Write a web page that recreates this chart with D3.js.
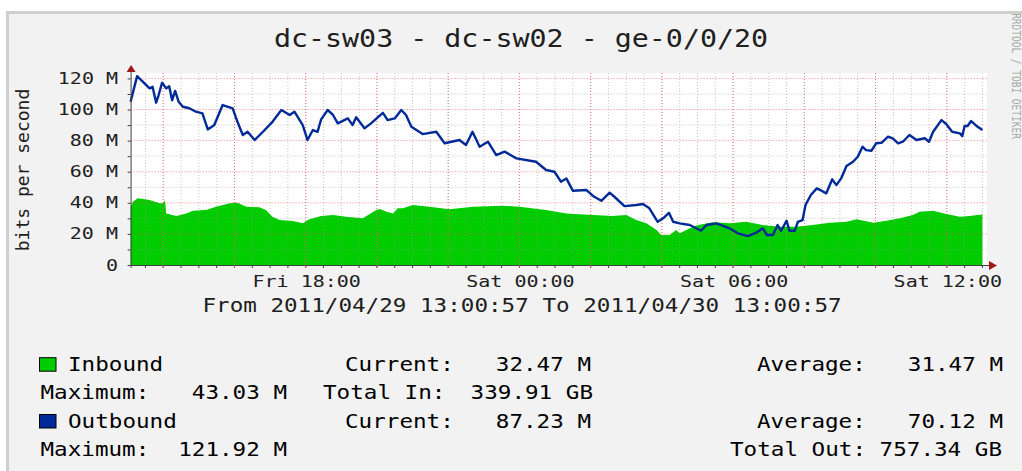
<!DOCTYPE html>
<html><head><meta charset="utf-8">
<script src="https://cdn.jsdelivr.net/npm/d3@7/dist/d3.min.js"></script>
<style>
html,body{margin:0;padding:0;background:#fff;}
svg{display:block;}
text{font-family:"DejaVu Sans Mono",monospace;}
</style></head>
<body>
<svg id="c" width="1022" height="471"></svg>
<script>
// ---------- data ----------
const title = "dc-sw03 - dc-sw02 - ge-0/0/20";
const yAxisTitle = "bits per second";
const rangeText = "From 2011/04/29 13:00:57 To 2011/04/30 13:00:57";
const watermark = "RRDTOOL / TOBI OETIKER";
const yTickValues = [0, 20, 40, 60, 80, 100, 120];           // M bits/s
const yTickLabels = ["0", "20 M", "40 M", "60 M", "80 M", "100 M", "120 M"];
const xLabelTimes = ["29 18:00", "30 00:00", "30 06:00", "30 12:00"];
const xLabelTexts = ["Fri 18:00", "Sat 00:00", "Sat 06:00", "Sat 12:00"];
const timeStart = "29 13:05", timeEnd = "30 13:01";

const inTimes = ["29 13:05","29 13:09","29 13:17","29 13:37","29 13:54","29 13:59","29 14:03","29 14:05","29 14:22","29 14:39","29 14:50","29 15:12","29 15:29","29 15:52","29 16:05","29 16:20","29 16:42","29 16:53","29 17:04","29 17:16","29 17:38","29 17:55","29 18:06","29 18:26","29 18:46","29 19:08","29 19:36","29 19:59","29 20:05","29 20:16","29 20:27","29 20:35","29 20:44","29 21:00","29 21:28","29 22:02","29 22:42","29 23:32","30 00:00","30 00:45","30 01:19","30 02:04","30 02:37","30 03:00","30 03:17","30 03:34","30 03:51","30 03:59","30 04:13","30 04:24","30 04:30","30 04:47","30 05:01","30 05:26","30 05:54","30 06:22","30 06:50","30 07:18","30 07:46","30 08:14","30 08:43","30 09:11","30 09:28","30 09:56","30 10:18","30 10:41","30 11:03","30 11:14","30 11:37","30 11:59","30 12:22","30 12:38","30 13:00"];
const inValues = [37.5,40.7,43.0,41.8,39.7,39.7,41.5,33.2,31.5,33.2,34.9,35.4,37.5,39.7,40.0,37.5,37.1,35.4,31.1,28.9,28.3,26.8,29.4,31.5,32.2,31.1,30.0,35.4,36.0,34.3,33.2,36.5,36.5,38.6,37.5,35.8,37.5,38.1,37.5,35.4,33.2,32.2,31.5,32.2,28.9,26.8,22.5,19.3,19.3,22.5,20.4,23.6,25.7,27.5,26.8,27.8,25.7,24.6,24.6,25.7,27.2,27.8,29.4,27.2,28.5,30.0,32.2,34.3,34.9,32.8,31.1,31.5,32.5];

const outTimes = ["29 13:05","29 13:16","29 13:37","29 13:42","29 13:48","29 13:52","29 13:58","29 14:05","29 14:10","29 14:15","29 14:20","29 14:26","29 14:33","29 14:44","29 14:55","29 15:06","29 15:15","29 15:26","29 15:40","29 15:57","29 16:05","29 16:14","29 16:22","29 16:34","29 16:48","29 17:04","29 17:19","29 17:33","29 17:41","29 17:55","29 18:03","29 18:12","29 18:20","29 18:26","29 18:37","29 18:46","29 18:54","29 19:11","29 19:19","29 19:25","29 19:39","29 19:50","29 20:10","29 20:18","29 20:30","29 20:41","29 20:49","29 20:58","29 21:17","29 21:40","29 21:54","29 22:19","29 22:30","29 22:41","29 22:53","29 23:07","29 23:21","29 23:35","29 23:55","30 00:28","30 00:45","30 00:59","30 01:10","30 01:19","30 01:30","30 01:53","30 02:04","30 02:18","30 02:32","30 02:40","30 02:57","30 03:17","30 03:28","30 03:39","30 03:53","30 04:02","30 04:12","30 04:19","30 04:30","30 04:47","30 05:06","30 05:15","30 05:32","30 05:54","30 06:08","30 06:25","30 06:39","30 06:50","30 06:57","30 07:07","30 07:15","30 07:21","30 07:30","30 07:35","30 07:44","30 07:49","30 07:57","30 08:02","30 08:11","30 08:21","30 08:29","30 08:37","30 08:47","30 08:54","30 09:02","30 09:11","30 09:22","30 09:30","30 09:38","30 09:44","30 09:53","30 10:01","30 10:10","30 10:21","30 10:29","30 10:38","30 10:46","30 10:57","30 11:09","30 11:23","30 11:30","30 11:37","30 11:51","30 11:59","30 12:09","30 12:22","30 12:26","30 12:30","30 12:35","30 12:41","30 12:52","30 13:00"];
const outValues = [105.0,121.5,113.6,114.6,104.4,109.0,117.2,113.6,115.0,106.0,112.0,105.0,101.8,100.8,98.6,97.5,87.2,90.0,102.9,100.8,92.1,83.6,85.7,80.4,85.7,92.1,99.7,96.5,98.6,90.0,80.4,86.8,85.7,93.7,99.7,96.5,91.1,94.3,90.0,95.0,87.9,91.1,97.9,93.2,94.3,99.7,96.5,88.9,84.2,85.7,78.3,80.4,77.2,85.7,76.1,79.3,70.7,72.9,68.6,66.4,61.1,60.0,53.6,55.7,47.8,48.2,44.4,41.3,46.5,43.9,37.9,38.6,39.2,36.5,27.8,30.0,33.6,27.8,26.8,25.7,22.0,25.7,26.8,23.6,20.4,18.6,20.8,23.6,19.3,19.3,25.7,22.0,28.5,22.0,22.0,27.8,28.9,38.6,45.0,49.3,47.8,46.1,55.1,51.4,55.7,63.7,66.4,69.6,76.1,73.9,73.5,78.3,78.6,82.5,81.5,78.3,79.3,83.6,80.4,81.5,79.3,85.7,93.2,90.7,85.7,84.7,82.9,89.4,89.4,92.6,88.9,86.8];

const seriesNames = ["Inbound", "Outbound"];
const seriesColors = ["#00CC00", "#002A97"];
const currentVals = ["32.47 M", "87.23 M"];
const averageVals = ["31.47 M", "70.12 M"];
const maximumVals = ["43.03 M", "121.92 M"];
const totalLabels = ["Total In:", "Total Out:"];
const totalVals = ["339.91 GB", "757.34 GB"];

// ---------- drawing ----------
const svg = d3.select("#c");
const parse = s => d3.timeParse("%Y-%m-%d %H:%M")("2011-04-" + s);

// canvas
svg.append("rect").attr("x", 6).attr("y", 11).attr("width", 1016).attr("height", 460).attr("fill", "#cfcfcf");
svg.append("rect").attr("x", 9).attr("y", 14).attr("width", 1013).attr("height", 457).attr("fill", "#F2F2F2");

const plot = {left: 130.6, right: 987, top: 73, bottom: 265};
const x = d3.scaleTime().domain([parse(timeStart), parse(timeEnd)]).range([130.6, 983]);
const y = d3.scaleLinear().domain([0, 123.5]).range([plot.bottom, plot.top]);

// helper for horizontally stretched text
function txt(s, px, py, size, sx, anchor, fill) {
  return svg.append("text")
    .attr("transform", `translate(${px},${py}) scale(${sx},1)`)
    .attr("font-size", size).attr("text-anchor", anchor || "start")
    .attr("fill", fill || "#000").text(s);
}

svg.append("rect").attr("x", plot.left).attr("y", plot.top)
  .attr("width", plot.right - plot.left).attr("height", plot.bottom - plot.top).attr("fill", "#fff");

// inbound area
const area = d3.area().x((d, i) => x(parse(inTimes[i]))).y0(y(0)).y1(d => y(d));
svg.append("path").datum(inValues).attr("d", area).attr("fill", "#00CC00");

// grid (drawn over the area like rrdtool)
const g = svg.append("g");
const minorT = d3.timeMinute.every(30).range(parse(timeStart), parse(timeEnd));
const majorT = d3.timeHour.every(2).range(parse(timeStart), parse(timeEnd));
minorT.forEach(t => {
  g.append("line").attr("x1", x(t)).attr("x2", x(t)).attr("y1", plot.top).attr("y2", plot.bottom)
    .attr("stroke", "rgba(150,150,150,0.55)").attr("stroke-dasharray", "1,2");
});
majorT.forEach(t => {
  g.append("line").attr("x1", x(t)).attr("x2", x(t)).attr("y1", plot.top).attr("y2", plot.bottom)
    .attr("stroke", "rgba(240,80,80,0.7)").attr("stroke-dasharray", "1,2");
});
d3.range(10, 124, 10).forEach(v => {
  const major = v % 20 === 0;
  g.append("line").attr("x1", plot.left).attr("x2", plot.right).attr("y1", y(v)).attr("y2", y(v))
    .attr("stroke", major ? "rgba(240,80,80,0.7)" : "rgba(150,150,150,0.55)").attr("stroke-dasharray", "1,2");
});

// outbound line
const line = d3.line().x((d, i) => x(parse(outTimes[i]))).y(d => y(d));
svg.append("path").datum(outValues).attr("d", line).attr("fill", "none")
  .attr("stroke", "#002A97").attr("stroke-width", 2.4).attr("stroke-linejoin", "round");

// axes
const ax = svg.append("g").attr("stroke", "#404040");
ax.append("line").attr("x1", plot.left).attr("x2", 990).attr("y1", plot.bottom + 0.5).attr("y2", plot.bottom + 0.5);
ax.append("line").attr("x1", plot.left + 0.5).attr("x2", plot.left + 0.5).attr("y1", plot.bottom + 3).attr("y2", 70);
minorT.forEach(t => ax.append("line").attr("x1", x(t)).attr("x2", x(t)).attr("y1", plot.bottom).attr("y2", plot.bottom + 3));
majorT.forEach(t => svg.append("line").attr("x1", x(t)).attr("x2", x(t)).attr("y1", plot.bottom).attr("y2", plot.bottom + 3).attr("stroke", "rgba(240,80,80,0.8)"));
d3.range(0, 124, 10).forEach(v => ax.append("line").attr("x1", plot.left - 3).attr("x2", plot.left).attr("y1", y(v) + 0.5).attr("y2", y(v) + 0.5));
// arrows
svg.append("path").attr("d", `M${plot.left - 4},${72} L${plot.left + 5},${72} L${plot.left + 0.5},${65} Z`).attr("fill", "#A01818");
svg.append("path").attr("d", `M${989},${plot.bottom - 4} L${989},${plot.bottom + 5} L${997},${plot.bottom + 0.5} Z`).attr("fill", "#A01818");

// y tick labels
yTickValues.forEach((v, i) => txt(yTickLabels[i], 118, y(v) + 5.5, 16, 1.25, "end", "#202020"));
// x tick labels
xLabelTimes.forEach((t, i) => txt(xLabelTexts[i], x(parse(t)) + 1, 287, 16, 1.25, "middle", "#202020"));

// titles
txt(title, 521, 47, 24, 1.18, "middle", "#202020");
svg.append("text").attr("transform", "translate(29,170) rotate(-90)")
  .attr("font-size", 18).attr("text-anchor", "middle").attr("fill", "#202020").text(yAxisTitle);
txt(rangeText, 522, 312, 20, 1.13, "middle", "#202020");
svg.append("text").attr("transform", "translate(1012,76) rotate(90) scale(1,1.2)")
  .attr("font-size", 9.5).attr("text-anchor", "middle").attr("fill", "#a8a8a8").text(watermark);

// legend
const rowsY = [[370.7, 399], [427.5, 456]];
seriesNames.forEach((name, i) => {
  const [r1, r2] = rowsY[i];
  svg.append("rect").attr("x", 39.5).attr("y", r1 - 13).attr("width", 16.5).attr("height", 13.5)
    .attr("fill", seriesColors[i]).attr("stroke", "#000").attr("stroke-width", 1);
  const s = 1.13, f = 20;
  txt(name, 68, r1, f, s);
  txt("Current:", 345, r1, f, s);
  txt(currentVals[i], 591, r1, f, s, "end");
  txt("Average:", 757, r1, f, s);
  txt(averageVals[i], 1003, r1, f, s, "end");
  txt("Maximum:", 40.5, r2, f, s);
  txt(maximumVals[i], 287, r2, f, s, "end");
  if (i === 0) {
    txt(totalLabels[i], 323, r2, f, s);
    txt(totalVals[i], 593, r2, f, s, "end");
  } else {
    txt(totalLabels[i] + " " + totalVals[i], 1002, r2, f, s, "end");
  }
});
</script>
</body></html>
